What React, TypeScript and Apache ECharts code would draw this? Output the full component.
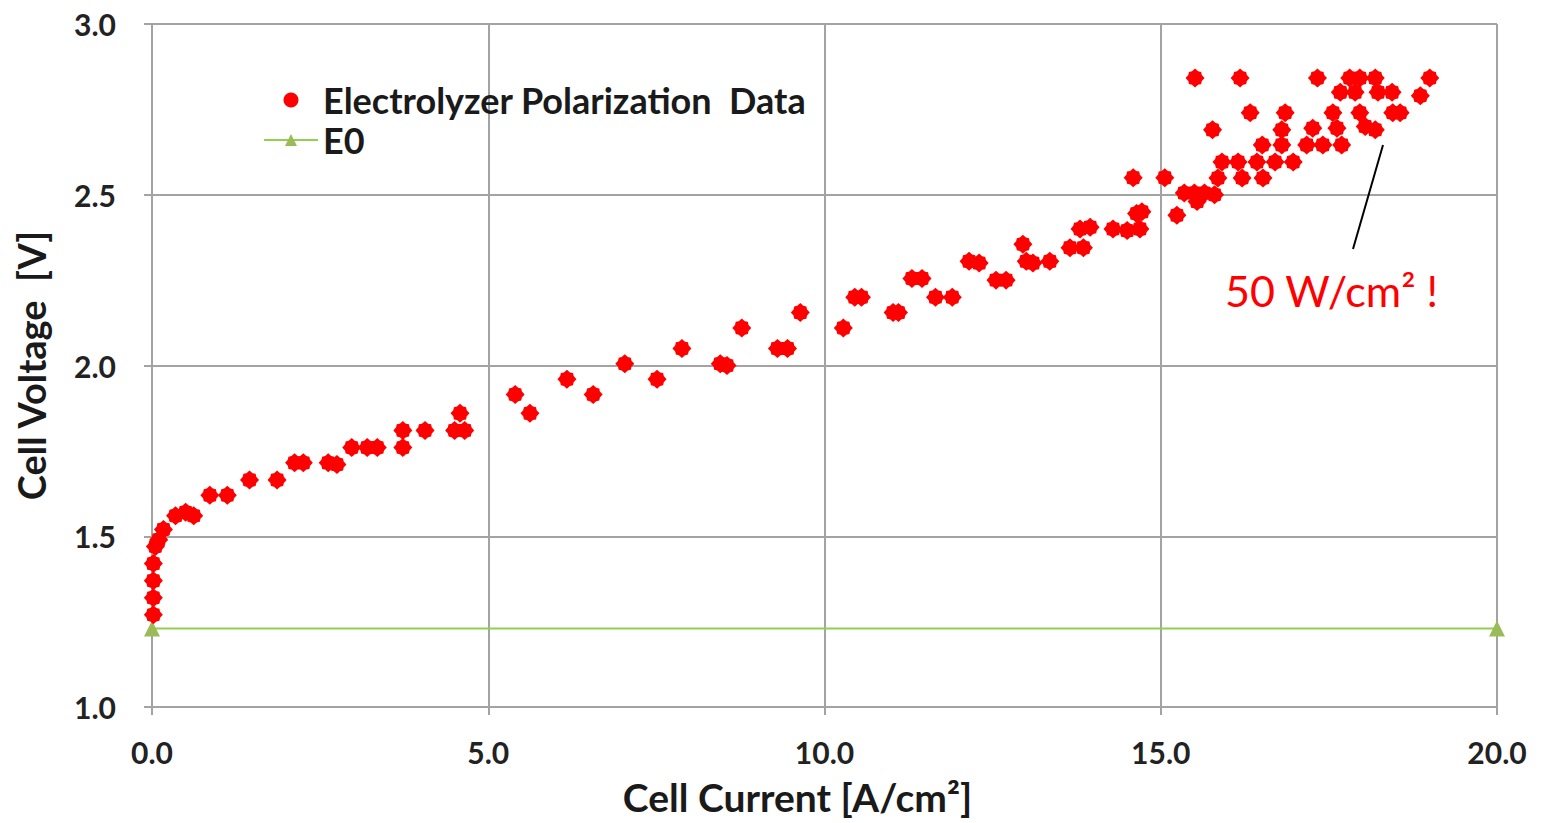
import React, { useEffect, useRef } from "react";
import * as echarts from "echarts";

// Electrolyzer polarization data: cell current [A/cm²] and cell voltage [V]
const polCurrent = [
  0.02, 0.02, 0.02, 0.02, 0.05, 0.1, 0.17, 0.35, 0.5, 0.62,
  0.86, 1.12, 1.45, 1.86, 2.12, 2.25, 2.62, 2.75, 2.97, 3.2,
  3.35, 3.73, 3.73, 4.06, 4.58, 4.5, 4.65, 5.4, 5.62, 6.17,
  6.56, 7.03, 7.51, 7.88, 8.45, 8.55, 8.77, 9.3, 9.45, 9.64,
  10.28, 10.45, 10.55, 11.02, 11.1, 11.3, 11.45, 11.65, 11.9, 12.15,
  12.3, 12.55, 12.7, 12.95, 13.0, 13.1, 13.35, 13.65, 13.85, 13.8,
  13.95, 14.29, 14.5, 14.69, 14.64, 14.72, 14.59, 15.06, 15.24, 15.35,
  15.5, 15.65, 15.8, 15.54, 15.51, 16.18, 17.33, 17.81, 17.96, 18.19,
  19.0, 15.77, 16.33, 16.85, 16.8, 17.26, 16.51, 16.8, 17.17, 17.41,
  17.69, 15.91, 16.15, 16.43, 16.7, 16.97, 15.85, 16.21, 16.52, 17.67,
  17.89, 18.23, 18.44, 18.86, 17.56, 17.96, 18.45, 18.56, 17.62, 18.04,
  18.19,
];
const polVoltage = [
  1.27, 1.32, 1.37, 1.42, 1.47, 1.49, 1.52, 1.56, 1.57, 1.56,
  1.62, 1.62, 1.665, 1.665, 1.715, 1.715, 1.715, 1.71, 1.76, 1.76,
  1.76, 1.81, 1.76, 1.81, 1.86, 1.81, 1.81, 1.915, 1.86, 1.96,
  1.915, 2.005, 1.96, 2.05, 2.005, 2.0, 2.11, 2.05, 2.05, 2.155,
  2.11, 2.2, 2.2, 2.155, 2.155, 2.255, 2.255, 2.2, 2.2, 2.305,
  2.3, 2.25, 2.25, 2.355, 2.305, 2.3, 2.305, 2.345, 2.345, 2.4,
  2.405, 2.4, 2.395, 2.4, 2.445, 2.45, 2.55, 2.55, 2.44, 2.505,
  2.505, 2.505, 2.5, 2.48, 2.842, 2.842, 2.842, 2.842, 2.842, 2.842,
  2.842, 2.69, 2.74, 2.74, 2.69, 2.695, 2.646, 2.646, 2.646, 2.646,
  2.646, 2.596, 2.596, 2.596, 2.596, 2.596, 2.549, 2.549, 2.549, 2.8,
  2.8, 2.8, 2.8, 2.79, 2.74, 2.74, 2.74, 2.74, 2.695, 2.7,
  2.69,
];

// Thermodynamic reversible voltage E0
const e0Current = [0, 20];
const e0Voltage = [1.23, 1.23];

const seriesNames = ["Electrolyzer Polarization  Data", "E0"];
const xAxisTitle = "Cell Current [A/cm²]";
const yAxisTitle = "Cell Voltage  [V]";
const annotationText = "50 W/cm² !";

const blob =
  "path://M20,10L17.1,13.2L16.4,16.4L13.2,17.1L10,20L6.8,17.1L3.6,16.4L2.9,13.2L0,10L2.9,6.8L3.6,3.6L6.8,2.9L10,0L13.2,2.9L16.4,3.6L17.1,6.8Z";

const FONT = "Lato, 'Open Sans', 'DejaVu Sans', sans-serif";
const GRID_COLOR = "#a3a3a3";

export default function App() {
  const ref = useRef<HTMLDivElement>(null);

  useEffect(() => {
    const chart = echarts.init(ref.current!, null, { renderer: "svg" });
    const polData = polCurrent.map((x, i) => [x, polVoltage[i]]);
    const e0Data = e0Current.map((x, i) => [x, e0Voltage[i]]);

    chart.setOption({
      animation: false,
      backgroundColor: "#ffffff",
      grid: { left: 152, right: 44, top: 24, bottom: 116, containLabel: false },
      legend: {
        orient: "vertical",
        left: 263,
        top: 82,
        padding: 0,
        itemWidth: 54,
        itemHeight: 15,
        itemGap: 4,
        textStyle: {
          fontFamily: FONT,
          fontSize: 36,
          lineHeight: 36,
          color: "#1a1a1a",
          fontWeight: "bold",
        },
        data: [
          { name: seriesNames[0], icon: "circle" },
          { name: seriesNames[1] },
        ],
      },
      xAxis: {
        type: "value",
        min: 0,
        max: 20,
        interval: 5,
        name: xAxisTitle,
        nameLocation: "middle",
        nameGap: 70,
        nameTextStyle: {
          fontFamily: FONT,
          fontSize: 39,
          color: "#1a1a1a",
          fontWeight: "bold",
          padding: [0, 54, 0, 0],
        },
        axisLine: { show: true, lineStyle: { color: GRID_COLOR, width: 2 } },
        axisTick: { show: true, length: 8, lineStyle: { color: GRID_COLOR, width: 2 } },
        splitLine: { show: true, lineStyle: { color: GRID_COLOR, width: 2 } },
        axisLabel: {
          margin: 30,
          fontFamily: FONT,
          fontSize: 30,
          fontWeight: "bold",
          color: "#222222",
          formatter: (v: number) => v.toFixed(1),
        },
      },
      yAxis: {
        type: "value",
        min: 1,
        max: 3,
        interval: 0.5,
        name: yAxisTitle,
        nameLocation: "middle",
        nameGap: 102,
        nameTextStyle: {
          fontFamily: FONT,
          fontSize: 38,
          color: "#1a1a1a",
          fontWeight: "bold",
        },
        axisLine: { show: true, lineStyle: { color: GRID_COLOR, width: 2 } },
        axisTick: { show: true, length: 8, lineStyle: { color: GRID_COLOR, width: 2 } },
        splitLine: { show: true, lineStyle: { color: GRID_COLOR, width: 2 } },
        axisLabel: {
          margin: 36,
          fontFamily: FONT,
          fontSize: 30,
          fontWeight: "bold",
          color: "#222222",
          formatter: (v: number) => v.toFixed(1),
        },
      },
      series: [
        {
          name: seriesNames[1],
          type: "line",
          data: e0Data,
          symbol: "triangle",
          symbolSize: 16,
          lineStyle: { color: "#92d050", width: 2 },
          itemStyle: { color: "#9bbb59" },
          z: 2,
        },
        {
          name: seriesNames[0],
          type: "scatter",
          data: polData,
          symbol: blob,
          symbolSize: 19,
          itemStyle: { color: "#ff0000", opacity: 1 },
          z: 3,
        },
      ],
      graphic: [
        {
          type: "line",
          shape: { x1: 1383, y1: 145, x2: 1353, y2: 249 },
          style: { stroke: "#000000", lineWidth: 2 },
          z: 10,
        },
        {
          type: "text",
          x: 1225,
          y: 290,
          style: {
            text: annotationText,
            fill: "#ff0000",
            font: `normal 43px ${FONT}`,
            align: "left",
            verticalAlign: "middle",
            textAlign: "left",
            textVerticalAlign: "middle",
          },
          z: 10,
        },
      ],
    });

    return () => chart.dispose();
  }, []);

  return (
    <div
      ref={ref}
      style={{ position: "fixed", left: 0, top: 0, width: 1541, height: 823, background: "#fff" }}
    />
  );
}
